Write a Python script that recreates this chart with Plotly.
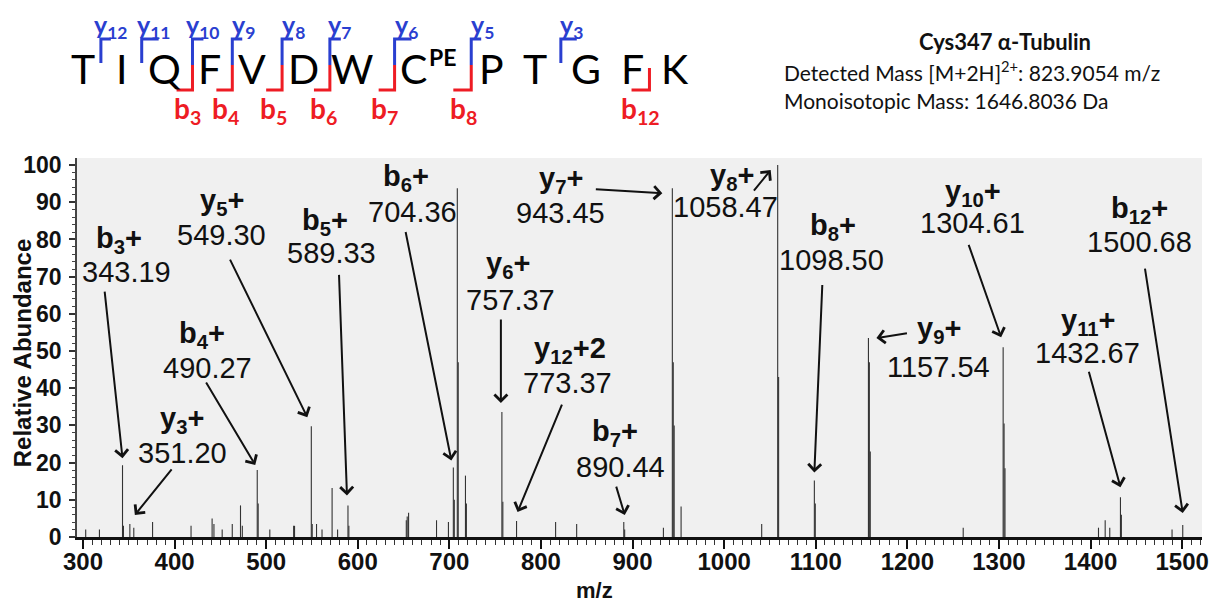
import plotly.graph_objects as go

# ---------------- data ----------------
peak_mz = [303, 318, 343.19, 344.2, 351.20, 355.5, 376, 418, 441, 443, 452, 463,
           472, 474, 490.27, 491.3, 504, 530, 531, 549.30, 550.3, 555, 561, 572,
           578, 589.33, 590.3, 653, 654, 655.5, 686, 699, 704.36, 705.4, 708.7,
           709.7, 717.6, 718.6, 757.37, 758.4, 773.37, 816, 839, 890.44, 891.4,
           933.7, 943.45, 944.45, 945.45, 953, 1041, 1058.47, 1059.47, 1098.50,
           1099.5, 1157.54, 1158.54, 1159.54, 1261, 1304.61, 1305.61, 1306.61,
           1408.7, 1416, 1421, 1432.67, 1433.67, 1489, 1500.68]
peak_int = [2, 2, 19.3, 3, 3.5, 2.5, 4, 3, 5, 3.5, 2, 3.5,
            8.5, 3, 18, 9, 2, 3, 3, 29.8, 3.5, 3.5, 2, 13.2,
            2, 8.5, 3, 4.5, 5.5, 6.5, 4.5, 4, 18.7, 10, 93.8,
            47, 16.5, 9, 33.6, 9.5, 4.3, 4, 3.5, 4, 2,
            2.5, 93.8, 47, 30, 8.2, 3.5, 100, 43, 15.2,
            9, 53.5, 47, 23, 2.5, 51, 30.5, 18.5,
            2.5, 4.5, 2.5, 10.7, 6, 2, 3.2]

ion_labels = ["b<sub>3</sub>+", "y<sub>3</sub>+", "b<sub>4</sub>+", "y<sub>5</sub>+",
              "b<sub>5</sub>+", "b<sub>6</sub>+", "y<sub>6</sub>+", "y<sub>12</sub>+2",
              "b<sub>7</sub>+", "y<sub>7</sub>+", "y<sub>8</sub>+", "b<sub>8</sub>+",
              "y<sub>9</sub>+", "y<sub>10</sub>+", "y<sub>11</sub>+", "b<sub>12</sub>+"]
ion_mz = [343.19, 351.20, 490.27, 549.30, 589.33, 704.36, 757.37, 773.37,
          890.44, 943.45, 1058.47, 1098.50, 1157.54, 1304.61, 1432.67, 1500.68]

sequence = ["T", "I", "Q", "F", "V", "D", "W", "C", "P", "T", "G", "F", "K"]
y_ions = ["y<sub>12</sub>", "y<sub>11</sub>", "y<sub>10</sub>", "y<sub>9</sub>", "y<sub>8</sub>",
          "y<sub>7</sub>", "y<sub>6</sub>", "y<sub>5</sub>", "y<sub>3</sub>"]
b_ions = ["b<sub>3</sub>", "b<sub>4</sub>", "b<sub>5</sub>", "b<sub>6</sub>", "b<sub>7</sub>",
          "b<sub>8</sub>", "b<sub>12</sub>"]

x_ticks = [300, 400, 500, 600, 700, 800, 900, 1000, 1100, 1200, 1300, 1400, 1500]
y_ticks = [0, 10, 20, 30, 40, 50, 60, 70, 80, 90, 100]

# ---------------- layout geometry ----------------
# the page body adds an 8 px offset, so the figure is 8 px smaller and margins shifted
OFF = 8
W, H = 1221 - OFF, 604 - OFF
ML, MR, MT, MB = 77 - OFF, 14, 158 - OFF, 67
PW, PH = W - ML - MR, H - MT - MB


def px(x):
    # page pixel -> paper fraction
    return (x - OFF - ML) / PW


def py(y):
    return (H - MB - (y - OFF)) / PH


SPEC_FONT = "Liberation Sans, Arial, sans-serif"
HEAD_FONT = "Lato, Liberation Sans, sans-serif"
BLUE = "#2a3fd0"
RED = "#ee1c24"

# ---------------- figure ----------------
xs, ys = [], []
for m, h in zip(peak_mz, peak_int):
    xs += [m, m, None]
    ys += [0, h, None]

fig = go.Figure()
fig.add_trace(go.Scatter(x=xs, y=ys, mode="lines",
                         line=dict(color="#333333", width=1.1),
                         hoverinfo="skip", showlegend=False))

annotations = []
shapes = []


def text_at(x, y, text, font, anchor="center", angle=0):
    annotations.append(dict(xref="paper", yref="paper", x=px(x), y=py(y), text=text,
                            xanchor=anchor, yanchor="middle", showarrow=False,
                            textangle=angle, font=font))


# ion annotation layout: label centre, value centre (pixels), arrow-head shift, tail offset
ion_layout = [
    ((119, 240), (127, 272), (0, 7), (-18, -168)),
    ((182, 420), (183, 453), (5, 9), (38, -47)),
    ((203, 335), (208, 368), (-2, 5), (-50, -84)),
    ((223, 202), (222, 235), (-4, 9), (-78, -159)),
    ((326, 222), (333, 253), (-1, 10), (-8, -222)),
    ((407, 178), (414, 212), (-2, 7), (-46, -230)),
    ((510, 265), (512, 300), (-1, 9), (0, -85)),
    ((572, 350), (570, 383), (1, 9), (45, -109)),
    ((617, 433), (623, 467), (1, 7), (-9, -30)),
    ((563, 180), (563, 213), (-10, -5), (-68, -4)),
    ((735, 177), (728, 207), (-7, -5), (-18, 22)),
    ((836, 227), (835, 260), (0, 8), (8, -189)),
    ((943, 330), (942, 367), (8, 0), (32, -5)),
    ((977, 193), (976, 223), (-2, 10), (-33, -94)),
    ((1093, 322), (1092, 353), (0, 10), (-32, -117)),
    ((1144, 210), (1144, 242), (0, 12), (-38, -246)),
]

ion_font = dict(family=SPEC_FONT, size=29, color="#111111")
for lab, mz, (L, V, sh, tail) in zip(ion_labels, ion_mz, ion_layout):
    inten = peak_int[peak_mz.index(mz)]
    text_at(L[0], L[1], "<b>" + lab + "</b>", ion_font)
    text_at(V[0], V[1], "%.2f" % mz, ion_font)
    annotations.append(dict(xref="x", yref="y", x=mz, y=inten,
                            xshift=sh[0], yshift=sh[1], ax=tail[0], ay=tail[1],
                            text="", showarrow=True, arrowhead=4, arrowsize=1.25,
                            arrowwidth=2, arrowcolor="#111111", standoff=0))

# axis titles
text_at(597, 590, "<b>m/z</b>", dict(family=SPEC_FONT, size=22, color="#111"))
text_at(22, 353, "<b>Relative Abundance</b>", dict(family=SPEC_FONT, size=24, color="#111"),
        angle=-90)

# ---------------- peptide header ----------------
letter_x = [83, 122, 165, 210, 253, 305, 353, 415, 493, 537, 588, 635, 678]
for ch, lx in zip(sequence, letter_x):
    text_at(lx, 68, ch, dict(family=HEAD_FONT, size=41, color="#000"))
text_at(444, 57, "<b>PE</b>", dict(family=HEAD_FONT, size=23, color="#000"))

y_label_x = [111, 154, 204, 244, 294, 341, 408, 484, 574]
for t, lx in zip(y_ions, y_label_x):
    text_at(lx, 26, "<b>" + t + "</b>", dict(family=HEAD_FONT, size=25, color=BLUE))
b_label_x = [188, 226, 274, 325, 386, 465, 643]
for t, lx in zip(b_ions, b_label_x):
    text_at(lx, 110, "<b>" + t + "</b>", dict(family=HEAD_FONT, size=28, color=RED))

# cleavage brackets: (vertical x, y-ion?, b-ion?, top length, bottom length)
brackets = [(101, True, False, 10, 0), (142, True, False, 17, 0), (193, True, True, 11, 16),
            (233, True, True, 10, 16), (283, True, True, 11, 16), (331, True, True, 11, 16),
            (396, True, True, 17, 16), (473, True, True, 10, 18), (563, True, False, 16, 0),
            (652, False, True, 0, 18)]


def path(points):
    return "M " + " L ".join("%.5f,%.5f" % (px(a), py(b)) for a, b in points)


for vx, hy, hb, tl, bl in brackets:
    if hy:
        bottom = 65 if hb else 63
        shapes.append(dict(type="path", xref="paper", yref="paper",
                           path=path([(vx + tl, 39), (vx, 39), (vx, bottom)]),
                           line=dict(color=BLUE, width=3)))
    if hb:
        top = 65 if hy else 68
        shapes.append(dict(type="path", xref="paper", yref="paper",
                           path=path([(vx, top), (vx, 90), (vx - bl, 90)]),
                           line=dict(color=RED, width=3)))

# info text
text_at(1009, 42, "<b>Cys347 α-Tubulin</b>", dict(family=HEAD_FONT, size=22, color="#111"))
text_at(785, 71, "Detected Mass [M+2H]<sup>2+</sup>: 823.9054 m/z",
        dict(family=HEAD_FONT, size=21, color="#111"), anchor="left")
text_at(785, 100, "Monoisotopic Mass: 1646.8036 Da",
        dict(family=HEAD_FONT, size=21, color="#111"), anchor="left")

fig.update_layout(
    width=W, height=H,
    margin=dict(l=ML, r=MR, t=MT, b=MB, pad=0),
    paper_bgcolor="white", plot_bgcolor="#f0f0f0",
    showlegend=False,
    annotations=annotations, shapes=shapes,
    xaxis=dict(range=[293.5, 1521.7], tickvals=x_ticks, ticktext=[str(v) for v in x_ticks],
               ticks="outside", ticklen=9, tickwidth=2, tickcolor="#111",
               minor=dict(dtick=10, tick0=300, ticks="outside", ticklen=5, tickwidth=1.2,
                          tickcolor="#333"),
               showline=True, linecolor="#111", linewidth=3, showgrid=False, zeroline=False,
               tickfont=dict(family=SPEC_FONT, size=24, color="#111", weight="bold"),
               ticklabelstandoff=-8),
    yaxis=dict(range=[0, 101.9], tickvals=y_ticks, ticktext=[str(v) for v in y_ticks],
               ticks="outside", ticklen=6, tickwidth=1.5, tickcolor="#333",
               minor=dict(dtick=2, tick0=0, ticks="outside", ticklen=3, tickwidth=1,
                          tickcolor="#444"),
               showline=True, linecolor="#444", linewidth=1.5, showgrid=False, zeroline=False,
               tickfont=dict(family=SPEC_FONT, size=23, color="#111", weight="bold"),
               ticklabelstandoff=3),
)

fig.write_html("out.html")
